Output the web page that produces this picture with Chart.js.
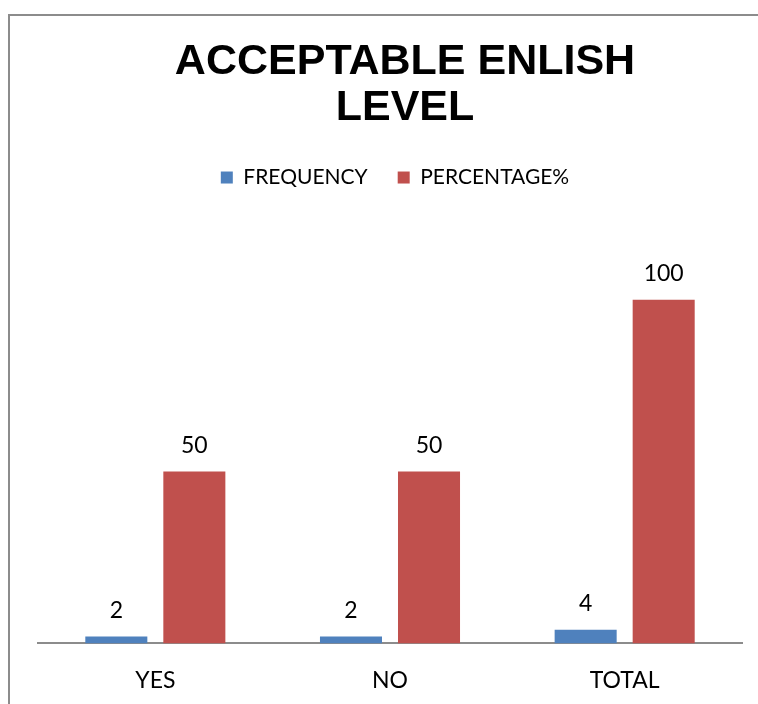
<!DOCTYPE html>
<html>
<head>
<meta charset="utf-8">
<script src="https://cdn.jsdelivr.net/npm/chart.js@4.4.1/dist/chart.umd.min.js"></script>
<style>
  html, body { margin: 0; padding: 0; background: #fff; overflow: hidden; }
  #wrap { width: 758px; height: 704px; position: relative; }
</style>
</head>
<body>
<div id="wrap"><canvas id="chart" width="758" height="704"></canvas></div>
<script>
const categories = ['YES', 'NO', 'TOTAL'];
const frequency = [2, 2, 4];
const percentage = [50, 50, 100];
const seriesNames = ['FREQUENCY', 'PERCENTAGE%'];
const titleLines = ['ACCEPTABLE ENLISH', 'LEVEL'];

const labelFont = 'Lato, "Open Sans", sans-serif';

// Outer frame of the chart object
const framePlugin = {
  id: 'frame',
  beforeDraw(chart) {
    const ctx = chart.ctx;
    ctx.save();
    ctx.fillStyle = '#fff';
    ctx.fillRect(0, 0, chart.width, chart.height);
    ctx.strokeStyle = '#8c8c8c';
    ctx.lineWidth = 2;
    ctx.beginPath();
    ctx.moveTo(9, chart.height + 5);
    ctx.lineTo(9, 15);
    ctx.lineTo(chart.width + 5, 15);
    ctx.stroke();
    ctx.restore();
  }
};

// Extra room below the legend, and small horizontal nudges for title and legend
const headerTweaks = {
  id: 'headerTweaks',
  beforeInit(chart) {
    const legend = chart.legend;
    const origFit = legend.fit;
    legend.fit = function () {
      origFit.call(this);
      this.height += 33;
    };
    const shiftDraw = (box, dx) => {
      const orig = box.draw;
      box.draw = function (area) {
        chart.ctx.save();
        chart.ctx.translate(dx, 0);
        orig.call(this, area);
        chart.ctx.restore();
      };
    };
    shiftDraw(legend, 5);
    shiftDraw(chart.titleBlock, 15);
  }
};

// Value labels above each bar
const valueLabels = {
  id: 'valueLabels',
  afterDatasetsDraw(chart) {
    const ctx = chart.ctx;
    ctx.save();
    ctx.font = '23px ' + labelFont;
    ctx.fillStyle = '#000';
    ctx.textAlign = 'center';
    ctx.textBaseline = 'middle';
    chart.data.datasets.forEach((ds, i) => {
      chart.getDatasetMeta(i).data.forEach((bar, j) => {
        ctx.fillText(String(ds.data[j]), bar.x, bar.y - 26);
      });
    });
    ctx.restore();
  }
};

new Chart(document.getElementById('chart'), {
  type: 'bar',
  data: {
    labels: categories,
    datasets: [
      { label: seriesNames[0], data: frequency, backgroundColor: '#4F81BD' },
      { label: seriesNames[1], data: percentage, backgroundColor: '#C0504D' }
    ]
  },
  options: {
    responsive: false,
    animation: false,
    categoryPercentage: 0.665,
    barPercentage: 0.795,
    layout: { padding: { left: 38, right: 16, top: 39, bottom: -13 } },
    plugins: {
      title: {
        display: true,
        text: titleLines,
        color: '#000',
        font: { family: '"Liberation Sans", Arial, sans-serif', size: 43, weight: 'bold', lineHeight: 1.07 },
        padding: { top: 0, bottom: 6 }
      },
      legend: {
        display: true,
        position: 'top',
        labels: {
          color: '#000',
          font: { family: labelFont, size: 21 },
          boxWidth: 12,
          boxHeight: 12,
          padding: 30
        }
      },
      tooltip: { enabled: false }
    },
    scales: {
      x: {
        grid: { display: false, drawTicks: false },
        border: { display: true, color: '#8c8c8c', width: 2 },
        ticks: { color: '#000', font: { family: labelFont, size: 23 }, padding: 23 }
      },
      y: {
        display: false,
        min: 0,
        max: 120
      }
    }
  },
  plugins: [framePlugin, headerTweaks, valueLabels]
});
</script>
</body>
</html>
